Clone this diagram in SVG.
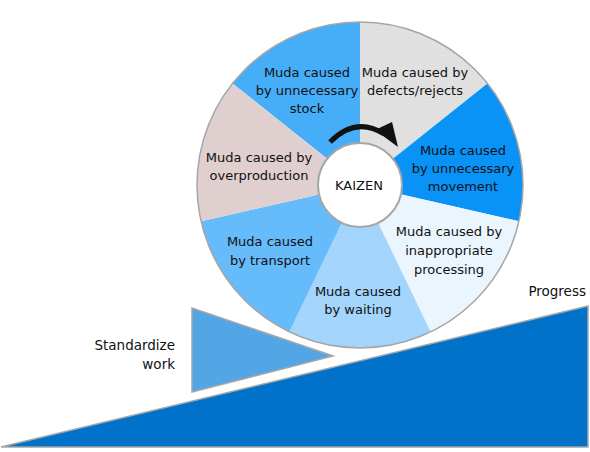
<svg xmlns="http://www.w3.org/2000/svg" width="590" height="452" viewBox="0 0 590 452">
<defs>
<pattern id="dots" width="4" height="4" patternUnits="userSpaceOnUse">
<rect width="4" height="4" fill="#e1e1e1"/>
<rect x="1" y="1" width="1" height="1" fill="#d6d6d6"/>
</pattern>
<pattern id="dots2" width="4" height="4" patternUnits="userSpaceOnUse">
<rect width="4" height="4" fill="#a4d5fc"/>
<rect x="1" y="1" width="1" height="1" fill="#9cd0f8"/>
</pattern>
</defs>
<style>
text{font-family:"DejaVu Sans","Liberation Sans",sans-serif;font-size:13px;fill:#111;text-anchor:middle}
.lbl{font-size:13.5px}
.edge{stroke:#a6a6a6;stroke-width:1.5}
</style>
<rect width="590" height="452" fill="#fff"/>
<g id="progress">
<polygon points="1,447 588,306 588,447" fill="#0072ca" class="edge"/>
<text class="lbl" x="586" y="296" style="text-anchor:end">Progress</text>
</g>
<g id="standardize-work">
<polygon points="192,308 192,392 333,356" fill="#52a6e6" class="edge"/>
<text class="lbl" x="175" y="350" style="text-anchor:end">Standardize</text>
<text class="lbl" x="175" y="369" style="text-anchor:end">work</text>
</g>
<g id="wheel">
<g id="stock">
<path d="M360,185 L232.6,83.4 A163,163 0 0 1 360,22 Z" fill="#46aef8"/>
<text x="307" y="77">Muda caused</text>
<text x="307" y="95">by unnecessary</text>
<text x="307" y="113">stock</text>
</g>
<g id="defects">
<path d="M360,185 L360,22 A163,163 0 0 1 487.4,83.4 Z" fill="url(#dots)"/>
<text x="415" y="77">Muda caused by</text>
<text x="415" y="95">defects/rejects</text>
</g>
<g id="movement">
<path d="M360,185 L487.4,83.4 A163,163 0 0 1 518.9,221.3 Z" fill="#0a93f6"/>
<text x="463" y="155">Muda caused</text>
<text x="463" y="173">by unnecessary</text>
<text x="463" y="191">movement</text>
</g>
<g id="processing">
<path d="M360,185 L518.9,221.3 A163,163 0 0 1 430.7,331.9 Z" fill="#eaf5fe"/>
<text x="449" y="236">Muda caused by</text>
<text x="449" y="255">inappropriate</text>
<text x="449" y="274">processing</text>
</g>
<g id="waiting">
<path d="M360,185 L430.7,331.9 A163,163 0 0 1 289.3,331.9 Z" fill="url(#dots2)"/>
<text x="358" y="296">Muda caused</text>
<text x="358" y="314">by waiting</text>
</g>
<g id="transport">
<path d="M360,185 L289.3,331.9 A163,163 0 0 1 201.1,221.3 Z" fill="#66bbfa"/>
<text x="270" y="246">Muda caused</text>
<text x="270" y="265">by transport</text>
</g>
<g id="overproduction">
<path d="M360,185 L201.1,221.3 A163,163 0 0 1 232.6,83.4 Z" fill="#dfcfcf"/>
<text x="259" y="162">Muda caused by</text>
<text x="259" y="180">overproduction</text>
</g>
<circle cx="360" cy="185" r="163" fill="none" class="edge"/>
<g id="kaizen">
<circle cx="360" cy="185" r="42" fill="#fff" stroke="#a6a6a6" stroke-width="2"/>
<text x="359" y="190">KAIZEN</text>
</g>
</g>
<g id="connectors">
<path d="M330,142 Q356,116 384,134" fill="none" stroke="#111" stroke-width="5"/>
<polygon points="375,130 392,122 398,147" fill="#111"/>
</g>
</svg>
